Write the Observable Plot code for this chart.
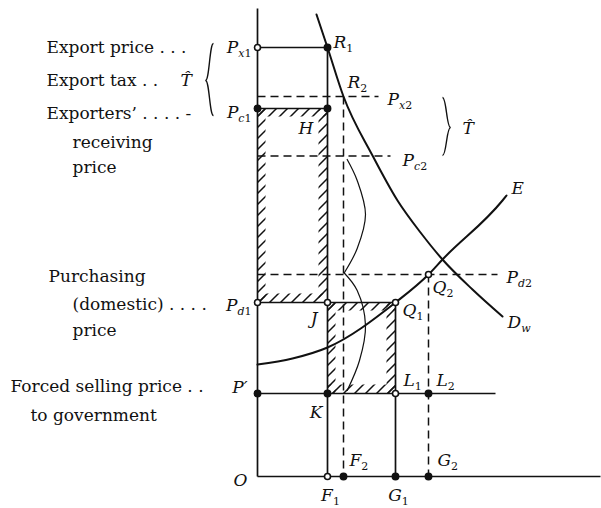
<!DOCTYPE html>
<html><head><meta charset="utf-8">
<script src="https://cdn.jsdelivr.net/npm/d3@7"></script>
<script src="https://cdn.jsdelivr.net/npm/@observablehq/plot@0.6"></script>
<style>body{margin:0;background:#fff}</style>
</head><body><div id="chart"></div>
<script>
// ---- data (quantity on x, price on y) ----
const priceNames  = ["Px1", "Px2", "Pc1", "Pc2", "Pd2", "Pd1", "P'"];
const priceValues = [42.9, 38.0, 36.8, 32.05, 20.2, 17.4, 8.3];
const quantityNames  = ["F1", "F2", "G1", "G2"];
const quantityValues = [7.0, 8.6, 13.8, 17.1];
// world demand curve Dw
const demandQ = [5.9, 7.0, 8.6, 11.5, 14.0, 16.3, 18.5, 21.5, 24.5];
const demandP = [46.2, 42.9, 38.0, 32.1, 27.6, 24.4, 21.7, 18.7, 16.0];
// export supply curve E
const supplyQ = [0, 3.5, 7.0, 13.8, 17.1, 18.5, 24.5, 24.9];
const supplyP = [11.2, 11.8, 12.9, 17.4, 20.2, 21.7, 27.6, 28.1];
// bracket arcs
const arc1Q = [8.97, 9.97, 10.8, 9.97, 8.7];
const arc1P = [31.7, 29.6, 26.2, 22.8, 20.4];
const arc2Q = [8.63, 9.97, 10.8, 10.2, 8.97];
const arc2P = [20.4, 18.6, 15.1, 11.6, 8.6];

const X = n => quantityValues[quantityNames.indexOf(n)];
const Y = n => priceValues[priceNames.indexOf(n)];
const zip = (a, b) => a.map((v, i) => ({x: v, y: b[i]}));

const solid = [
  {x1: 0, y1: 0, x2: 0, y2: 46.8},
  {x1: 0, y1: 0, x2: 34.3, y2: 0},
  {x1: 0, y1: Y("Px1"), x2: X("F1"), y2: Y("Px1")},
  {x1: X("F1"), y1: Y("Px1"), x2: X("F1"), y2: 0},
  {x1: 0, y1: Y("Pc1"), x2: X("F1"), y2: Y("Pc1")},
  {x1: 0, y1: Y("Pd1"), x2: X("G1"), y2: Y("Pd1")},
  {x1: X("G1"), y1: Y("Pd1"), x2: X("G1"), y2: 0},
  {x1: 0, y1: Y("P'"), x2: 23.8, y2: Y("P'")}
];
const dashed = [
  {x1: 0, y1: Y("Px2"), x2: 12.1, y2: Y("Px2")},
  {x1: 0, y1: Y("Pc2"), x2: 13.3, y2: Y("Pc2")},
  {x1: 0, y1: Y("Pd2"), x2: 24.0, y2: Y("Pd2")},
  {x1: X("F2"), y1: Y("Px2"), x2: X("F2"), y2: 0},
  {x1: X("G2"), y1: Y("Pd2"), x2: X("G2"), y2: 0}
];
const filledDots = [
  {x: 0, y: Y("Pc1")}, {x: X("F1"), y: Y("Px1")}, {x: X("F1"), y: Y("Pc1")},
  {x: 0, y: Y("P'")}, {x: X("F1"), y: Y("P'")}, {x: X("G2"), y: Y("P'")},
  {x: X("F2"), y: 0}, {x: X("G1"), y: 0}, {x: X("G2"), y: 0}
];
const openDots = [
  {x: 0, y: Y("Px1")}, {x: 0, y: Y("Pd1")}, {x: X("F1"), y: Y("Pd1")},
  {x: X("G1"), y: Y("Pd1")}, {x: X("G2"), y: Y("Pd2")},
  {x: X("G1"), y: Y("P'")}, {x: X("F1"), y: 0}
];
// hatched frames
const boxes = [
  {x1: 0, x2: X("F1"), y1: Y("Pd1"), y2: Y("Pc1")},
  {x1: X("F1"), x2: X("G1"), y1: Y("P'"), y2: Y("Pd1")}
];
const w = 0.85;
const strips = boxes.flatMap(b => [
  {x1: b.x1, x2: b.x1 + w, y1: b.y1, y2: b.y2},
  {x1: b.x2 - w, x2: b.x2, y1: b.y1, y2: b.y2},
  {x1: b.x1, x2: b.x2, y1: b.y2 - w, y2: b.y2},
  {x1: b.x1, x2: b.x2, y1: b.y1, y2: b.y1 + w}
]);

// ---- labels ----
const labelsEnd = [
  {t: "P_x1", x: -0.6, y: 42.9}, {t: "P_c1", x: -0.6, y: 36.4},
  {t: "P_d1", x: -0.6, y: 17.1}, {t: "P\u2032", x: -1.0, y: 8.9},
  {t: "O", x: -1.0, y: -0.4}, {t: "J", x: 6.0, y: 15.8}, {t: "K", x: 6.5, y: 6.4}
];
const labelsStart = [
  {t: "R_1", x: 7.6, y: 43.4}, {t: "R_2", x: 9.0, y: 39.4},
  {t: "P_x2", x: 13.0, y: 37.7}, {t: "H", x: 4.1, y: 34.8},
  {t: "P_c2", x: 14.5, y: 31.6}, {t: "T\u0302", x: 20.5, y: 34.8},
  {t: "E", x: 25.4, y: 28.8}, {t: "P_d2", x: 24.9, y: 19.9},
  {t: "Q_2", x: 17.5, y: 18.9}, {t: "D_w", x: 25.0, y: 15.4},
  {t: "Q_1", x: 14.5, y: 16.6}, {t: "L_1", x: 14.6, y: 9.6},
  {t: "L_2", x: 17.9, y: 9.6}, {t: "F_2", x: 9.2, y: 1.6},
  {t: "G_2", x: 18.0, y: 1.6}, {t: "T\u0302", x: -7.7, y: 39.6}
];
const labelsMid = [
  {t: "F_1", x: 7.3, y: -1.9}, {t: "G_1", x: 14.1, y: -1.9}
];
const captions = [
  {t: "Export price . . .", x: -21.1, y: 42.9},
  {t: "Export tax . .", x: -21.1, y: 39.6},
  {t: "Exporters\u2019 . . . . -", x: -21.1, y: 36.3},
  {t: "receiving", x: -18.5, y: 33.4},
  {t: "price", x: -18.5, y: 30.9},
  {t: "Purchasing", x: -20.9, y: 20.0},
  {t: "(domestic) . . . .", x: -18.5, y: 17.2},
  {t: "price", x: -18.5, y: 14.6},
  {t: "Forced selling price . .", x: -24.7, y: 9.0},
  {t: "to government", x: -22.7, y: 6.1}
];
const braces = [
  {x1: -4.4, y1: 43.3, x2: -5.2, y2: 39.6}, {x1: -4.4, y1: 36.1, x2: -5.2, y2: 39.6},
  {x1: 18.5, y1: 37.9, x2: 19.3, y2: 34.9}, {x1: 18.5, y1: 32.1, x2: 19.3, y2: 34.9}
];

const serif = "'DejaVu Serif', 'Liberation Serif', serif";
const ink = "#111";
const chart = Plot.plot({
  width: 601, height: 508,
  marginLeft: 257, marginRight: 0, marginTop: 8, marginBottom: 32,
  x: {domain: [0, 34.4], axis: null},
  y: {domain: [0, 46.8], axis: null},
  style: {background: "#fff", color: ink, fontFamily: serif},
  marks: [
    Plot.rect(strips, {x1: "x1", x2: "x2", y1: "y1", y2: "y2", fill: "url(#hatch)"}),
    Plot.link(solid, {x1: "x1", y1: "y1", x2: "x2", y2: "y2", stroke: ink, strokeWidth: 1.7}),
    Plot.link(dashed, {x1: "x1", y1: "y1", x2: "x2", y2: "y2", stroke: ink, strokeWidth: 1.5, strokeDasharray: "8,5"}),
    Plot.line(zip(demandQ, demandP), {x: "x", y: "y", curve: "monotone-x", stroke: ink, strokeWidth: 2}),
    Plot.line(zip(supplyQ, supplyP), {x: "x", y: "y", curve: "monotone-x", stroke: ink, strokeWidth: 2}),
    Plot.line(zip(arc1Q, arc1P), {x: "x", y: "y", curve: "catmull-rom", stroke: ink, strokeWidth: 1.2}),
    Plot.line(zip(arc2Q, arc2P), {x: "x", y: "y", curve: "catmull-rom", stroke: ink, strokeWidth: 1.2}),
    Plot.link(braces, {x1: "x1", y1: "y1", x2: "x2", y2: "y2", curve: "bump-x", stroke: ink, strokeWidth: 1.4}),
    Plot.dot(filledDots, {x: "x", y: "y", r: 3.2, fill: ink, stroke: ink}),
    Plot.dot(openDots, {x: "x", y: "y", r: 3, fill: "#fff", stroke: ink, strokeWidth: 1.6}),
    Plot.text(captions, {x: "x", y: "y", text: "t", textAnchor: "start", fontSize: 17, fontFamily: serif, fill: ink}),
    Plot.text(labelsEnd, {x: "x", y: "y", text: "t", textAnchor: "end", fontSize: 17, fontStyle: "italic", fontFamily: serif, fill: ink}),
    Plot.text(labelsStart, {x: "x", y: "y", text: "t", textAnchor: "start", fontSize: 17, fontStyle: "italic", fontFamily: serif, fill: ink}),
    Plot.text(labelsMid, {x: "x", y: "y", text: "t", textAnchor: "middle", fontSize: 17, fontStyle: "italic", fontFamily: serif, fill: ink})
  ]
});

// hatch pattern: sparse 45-degree slashes
const ns = "http://www.w3.org/2000/svg";
const defs = document.createElementNS(ns, "defs");
defs.innerHTML = '<pattern id="hatch" patternUnits="userSpaceOnUse" width="11" height="11">' +
  '<path d="M-1,12 L12,-1 M-1,1 L1,-1 M10,12 L12,10" stroke="#111" stroke-width="1.5" fill="none"/></pattern>';
chart.insertBefore(defs, chart.firstChild);

// subscripts
chart.querySelectorAll("text").forEach(t => {
  const s = t.textContent;
  if (!s.includes("_")) return;
  const [main, sub] = s.split("_");
  t.textContent = "";
  const m = document.createElementNS(ns, "tspan");
  m.textContent = main;
  t.appendChild(m);
  let first = true;
  for (const ch of sub) {
    const ts = document.createElementNS(ns, "tspan");
    ts.textContent = ch;
    ts.setAttribute("font-size", "11");
    if (/\d/.test(ch)) ts.setAttribute("font-style", "normal");
    if (first) { ts.setAttribute("dy", "0.35em"); first = false; }
    t.appendChild(ts);
  }
});
document.getElementById("chart").appendChild(chart);
</script>
</body></html>
